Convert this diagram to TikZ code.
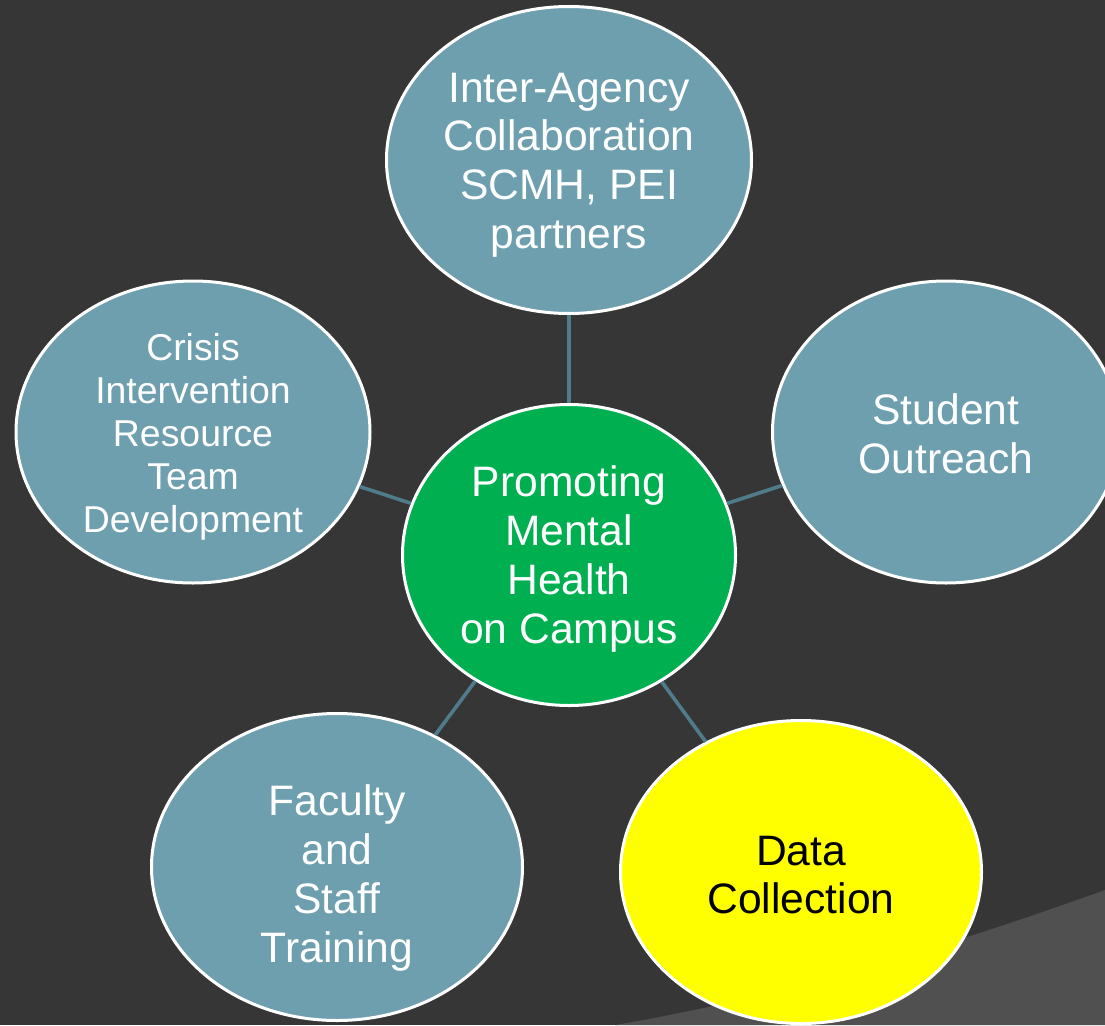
\documentclass[tikz,border=0pt]{standalone}
\usepackage{fontspec}
\setmainfont{Liberation Sans}
\usetikzlibrary{shapes.geometric}
\definecolor{bgdark}{HTML}{363636}
\definecolor{bglight}{HTML}{505050}
\definecolor{tealfill}{HTML}{6E9FAF}
\definecolor{linkcol}{HTML}{4E7C8B}
\definecolor{greenfill}{HTML}{00B050}
\definecolor{yellowfill}{HTML}{FFFF00}
\tikzset{
  bubble/.style={ellipse, draw=white, line width=3pt, fill=tealfill, inner sep=0pt},
  txt/.style={text=white, align=center, inner sep=0pt},
  bigtext/.style={font=\fontsize{42.6}{48.8}\selectfont},
  midtext/.style={font=\fontsize{37.4}{43}\selectfont},
  link/.style={draw=linkcol, line width=3.6pt}
}
\begin{document}
\begin{tikzpicture}[x=1pt,y=-1pt]
\fill[bgdark] (0,0) rectangle (1105,1025);
\useasboundingbox (0,0) rectangle (1105,1025);
\fill[bglight] (615,1025) .. controls (775,998) and (945,948) .. (1105,890) -- (1105,1025) -- cycle;

\node[bubble, minimum width=365pt, minimum height=307pt] (top) at (569,160) {};
\node[bubble, fill=greenfill, minimum width=333pt, minimum height=301pt] (ctr) at (569,555) {};
\node[bubble, minimum width=354pt, minimum height=302pt] (left) at (193,432) {};
\node[bubble, minimum width=347pt, minimum height=302pt] (right) at (946,432) {};
\node[bubble, minimum width=371pt, minimum height=307pt] (bl) at (337,867) {};
\node[bubble, fill=yellowfill, minimum width=361pt, minimum height=303pt] (br) at (801,872) {};

\node[txt, bigtext] (toptxt) at (569,165) {Inter-Agency\\Collaboration\\SCMH, PEI\\partners};
\node[txt, bigtext] (ctrtxt) at (569,559) {Promoting\\Mental\\Health\\on Campus};
\node[txt, midtext] (lefttxt) at (193,437) {Crisis\\Intervention\\Resource\\Team\\Development};
\node[txt, bigtext] (righttxt) at (946,434) {Student\\Outreach};
\node[txt, bigtext] (bltxt) at (337,878) {Faculty\\and\\Staff\\Training};
\node[txt, bigtext, text=black] (brtxt) at (801,875) {Data\\Collection};

\path[link] (top) -- (ctr);
\path[link] (left) -- (ctr);
\path[link] (right) -- (ctr);
\path[link] (bl) -- (ctr);
\path[link] (br) -- (ctr);
\end{tikzpicture}
\end{document}
